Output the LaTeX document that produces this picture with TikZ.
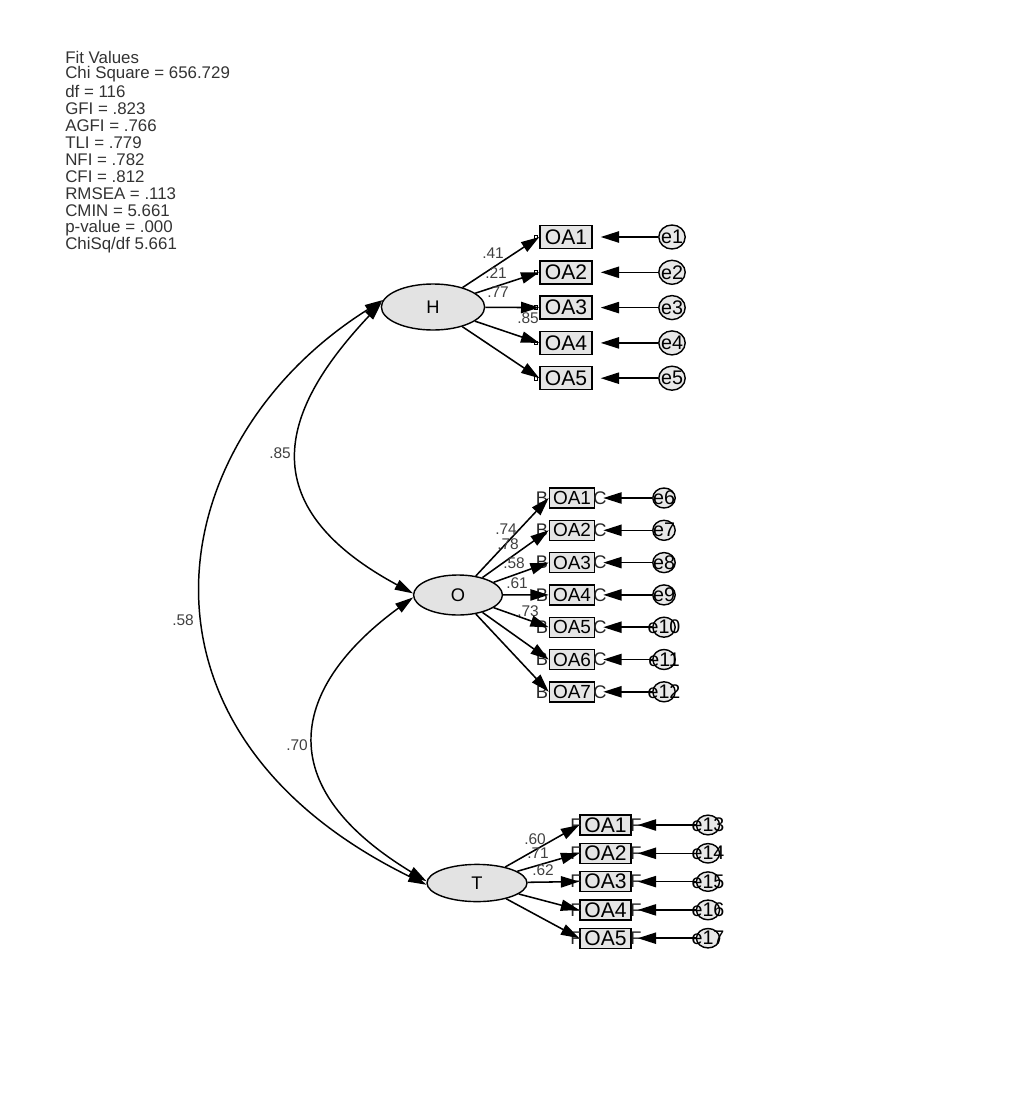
\documentclass[tikz,border=0pt]{standalone}
\usepackage{fontspec}
\setmainfont{Liberation Sans}
\usetikzlibrary{arrows.meta}
\usetikzlibrary{shapes.geometric}
\usetikzlibrary{positioning}
\tikzset{
  latente/.style={ellipse, draw, fill=gray!22, line width=1pt, inner sep=0pt, font=\fontsize{13}{13}\selectfont},
  caixa/.style={draw, fill=gray!20, line width=1pt, inner sep=0pt, minimum width=#1, font=\fontsize{15}{15}\selectfont},
  caixa/.default=1.3cm,
  erro/.style={ellipse, draw, fill=gray!18, line width=1pt, inner sep=0pt, font=\fontsize{14}{14}\selectfont},
  carga/.style={font=\fontsize{11}{11}\selectfont, text=black!75, inner sep=0pt},
  ajuste/.style={anchor=west, font=\fontsize{12}{12}\selectfont, text=black!80, inner sep=0pt},
  marca/.style={font=\fontsize{13}{13}\selectfont, text=black!85, inner sep=0pt},
  quad/.style={draw, line width=0.6pt, minimum size=0.09cm, inner sep=0pt},
  seta/.style={-{Triangle[length=13pt,width=8pt]}, line width=1.1pt},
  dupla/.style={{Triangle[length=13pt,width=7.5pt]}-{Triangle[length=13pt,width=7.5pt]}, line width=1.05pt},
}

\begin{document}
\begin{tikzpicture}[x=0.025cm, y=-0.025cm]
  \useasboundingbox (0,0) rectangle (1015,1118);
  % fit values
  \foreach \txt [count=\i from 0] in {Fit Values, Chi Square = 656.729, df = 116, GFI = .823,
      AGFI = .766, TLI = .779, NFI = .782, CFI = .812, RMSEA = .113, CMIN = 5.661,
      p-value = .000, {ChiSq/df  5.661}} {
    \node[ajuste] (fit\i) at (65,{57+\i*17.1}) {\txt};
  }
  % latent variables
  \node[latente, minimum width=2.58cm, minimum height=1.15cm] (H) at (433,307) {H};
  \node[latente, minimum width=2.22cm, minimum height=1.0cm] (O) at (458,595) {O};
  \node[latente, minimum width=2.5cm, minimum height=0.93cm] (T) at (477,883) {T};
  % H indicators
  \foreach \k in {1,...,5} {
    \pgfmathsetmacro{\yy}{237+(\k-1)*35.3}
    \node[caixa=1.3cm, minimum height=0.575cm] (H\k) at (566,\yy) {OA\k};
    \node[quad] (qH\k) at (536,\yy) {};
    \node[erro, minimum width=0.66cm, minimum height=0.6cm] (eH\k) at (672,\yy) {\makebox[0pt]{e\k}};
    \draw[seta, shorten >=0.2cm] (eH\k) -- (H\k.east);
    \draw[seta] (H) -- (H\k.west);
  }
  % O indicators
  \foreach \k in {1,...,7} {
    \pgfmathsetmacro{\yy}{498+(\k-1)*32.3}
    \pgfmathtruncatemacro{\nn}{\k+5}
    \node[caixa=1.13cm, minimum height=0.5cm, font=\fontsize{13.5}{13.5}\selectfont] (O\k) at (572,\yy) {OA\k};
    \node[marca] (bO\k) at (542,\yy) {B};
    \node[marca] (dO\k) at (600,\yy) {C};
    \node[erro, minimum width=0.56cm, minimum height=0.5cm] (eO\k) at (664,\yy) {\makebox[0pt]{e\nn}};
    \draw[seta, shorten >=0.2cm] (eO\k) -- (O\k.east);
    \draw[seta] (O) -- (O\k.west);
  }
  % T indicators
  \foreach \k in {1,...,5} {
    \pgfmathsetmacro{\yy}{825+(\k-1)*28.3}
    \pgfmathtruncatemacro{\nn}{\k+12}
    \node[caixa=1.28cm, minimum height=0.5cm] (T\k) at (605.5,\yy) {OA\k};
    \node[marca] (bT\k) at (576,\yy) {F};
    \node[marca] (dT\k) at (636,\yy) {F};
    \node[erro, minimum width=0.58cm, minimum height=0.48cm] (eT\k) at (708,\yy) {\makebox[0pt]{e\nn}};
    \draw[seta, shorten >=0.15cm] (eT\k) -- (T\k.east);
    \draw[seta] (T) -- (T\k.west);
  }
  % loadings
  \foreach \lab/\px/\py [count=\i] in {.41/493/253, .21/496/273, .77/498/292, .85/528/318} {
    \node[carga] (cH\i) at (\px,\py) {\lab};
  }
  \foreach \lab/\px/\py [count=\i] in {.74/506/529, .78/508/544, .58/514/563, .61/517/583, .73/528/611} {
    \node[carga] (cO\i) at (\px,\py) {\lab};
  }
  \foreach \lab/\px/\py [count=\i] in {.60/535/839, .71/538/853, .62/543/870} {
    \node[carga] (cT\i) at (\px,\py) {\lab};
  }
  % covariances
  \draw[dupla] (H.175) .. controls (290,400) and (240,500) .. (O.178);
  \draw[dupla] (H.172) .. controls (160,440) and (110,730) .. (T.182);
  \draw[dupla] (O.183) .. controls (300,680) and (260,780) .. (T.178);
  \node[carga] (r85) at (280,453) {.85};
  \node[carga] (r58) at (183,620) {.58};
  \node[carga] (r70) at (297,745) {.70};
\end{tikzpicture}
\end{document}
